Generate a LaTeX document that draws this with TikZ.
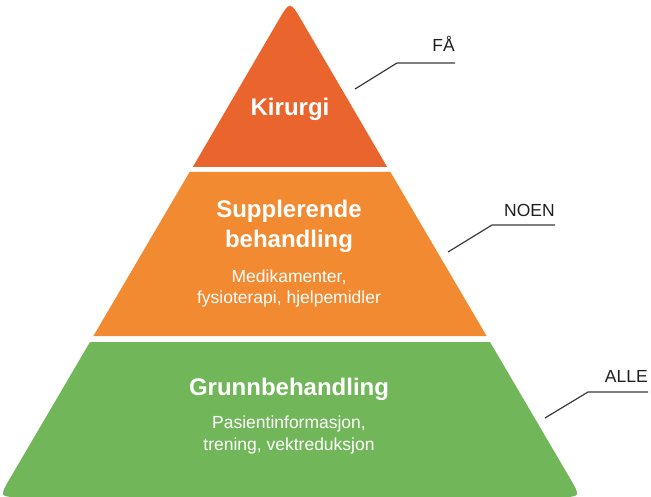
\documentclass[tikz,border=0pt]{standalone}
\usepackage{fontspec}
\setmainfont{Liberation Sans}
\definecolor{kir}{HTML}{E9652D}
\definecolor{sup}{HTML}{F18A30}
\definecolor{gru}{HTML}{72B65A}
\definecolor{lead}{HTML}{3A3A3A}
\begin{document}
\begin{tikzpicture}[x=1pt,y=-1pt,
  title/.style={anchor=base,text=white,inner sep=0pt,font=\bfseries\fontsize{24}{28}\selectfont},
  sub/.style={anchor=base,text=white,inner sep=0pt,font=\fontsize{17.5}{21}\selectfont},
  lbl/.style={anchor=base east,text=black!88,inner sep=0pt,font=\fontsize{17.5}{21}\selectfont},
  leader/.style={draw=lead,line width=1.2pt}]
\useasboundingbox (0,0) rectangle (651,497);
% bands
\fill[kir] (192.8,167) -- (277.9,21.3) .. controls (290,0.6) .. (302.1,21.3) -- (387.2,167) -- cycle;
\fill[sup] (189.6,172) -- (390.4,172) -- (486.6,336) -- (93.4,336) -- cycle;
\fill[gru] (90,342) -- (490,342) -- (569.8,478) .. controls (580.9,497) .. (558.9,497)
  -- (21.1,497) .. controls (-0.9,497) .. (10.2,478) -- cycle;
% texts
\node[title] (k) at (290,116) {Kirurgi};
\node[title] (s1) at (289,218) {Supplerende};
\node[title] (s2) at (289,248) {behandling};
\node[sub] (s3) at (289,283) {Medikamenter,};
\node[sub] (s4) at (289,304) {fysioterapi, hjelpemidler};
\node[title] (g1) at (289,395) {Grunnbehandling};
\node[sub] (g2) at (289,428) {Pasientinformasjon,};
\node[sub] (g3) at (289,450) {trening, vektreduksjon};
% labels
\node[lbl] (fa) at (455,52) {FÅ};
\node[lbl] (no) at (555,217) {NOEN};
\node[lbl] (al) at (648,382) {ALLE};
\coordinate (fa1) at (355,89);  \coordinate (fa2) at (397,63);
\coordinate (no1) at (448,252); \coordinate (no2) at (492,225);
\coordinate (al1) at (545,418); \coordinate (al2) at (588,392);
\draw[leader] (fa1) -- (fa2) -- (fa2 -| fa.east);
\draw[leader] (no1) -- (no2) -- (no2 -| no.east);
\draw[leader] (al1) -- (al2) -- (al2 -| al.east);
\end{tikzpicture}
\end{document}
